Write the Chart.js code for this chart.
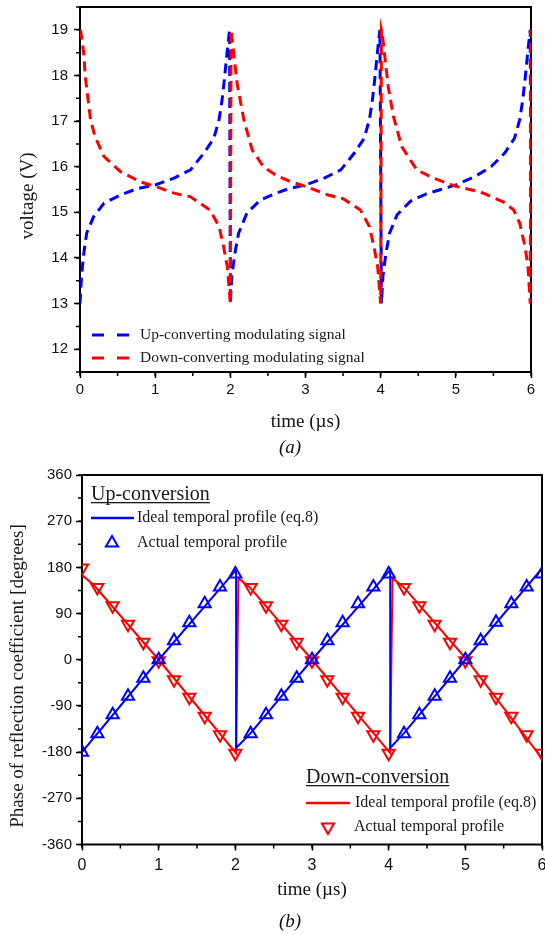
<!DOCTYPE html>
<html>
<head>
<meta charset="utf-8">
<script src="https://cdn.jsdelivr.net/npm/chart.js@4.4.1/dist/chart.umd.min.js"></script>
<style>
  body { margin: 0; background: #fff; width: 545px; height: 935px; position: relative; overflow: hidden; }
  .box { position: absolute; left: 0; width: 545px; }
  .cap { position: absolute; left: 240px; width: 100px; text-align: center; font: italic 19px 'Liberation Serif', serif; color: #111; }
</style>
</head>
<body>
<div class="box" style="top:0;height:440px"><canvas id="voltageChart"></canvas></div>
<div class="cap" style="top:436px">(a)</div>
<div class="box" style="top:455px;height:455px;width:551px"><canvas id="phaseChart"></canvas></div>
<div class="cap" style="top:910px">(b)</div>
<script>
// ticks
var timeTicks = [0, 1, 2, 3, 4, 5, 6];
var voltTicks = [12, 13, 14, 15, 16, 17, 18, 19];
var phaseTicks = [-360, -270, -180, -90, 0, 90, 180, 270, 360];

// (a) modulating voltages
var upTime = [0, 0.02, 0.05, 0.09, 0.18, 0.32, 0.54, 0.76, 1.0, 1.25, 1.47, 1.65, 1.78, 1.85, 1.89, 1.92, 1.96, 1.99, 2.0,
    2.02, 2.06, 2.11, 2.22, 2.4, 2.58, 2.78, 3.0, 3.25, 3.47, 3.65, 3.78, 3.85, 3.89, 3.92, 3.96, 3.99, 4.01,
    4.03, 4.07, 4.12, 4.22, 4.4, 4.6, 4.8, 5.0, 5.25, 5.47, 5.65, 5.78, 5.85, 5.89, 5.92, 5.96, 5.99, 6.0];
var upVolt = [13.0, 13.6, 14.1, 14.55, 14.9, 15.2, 15.38, 15.52, 15.6, 15.75, 15.93, 16.3, 16.62, 17.03, 17.46, 17.9, 18.56, 19.0, 13.0,
    13.6, 14.1, 14.54, 14.98, 15.27, 15.4, 15.52, 15.6, 15.75, 15.93, 16.3, 16.62, 17.03, 17.46, 17.9, 18.56, 19.0, 13.0,
    13.6, 14.1, 14.55, 14.95, 15.25, 15.4, 15.5, 15.6, 15.78, 16.0, 16.3, 16.62, 17.03, 17.46, 17.9, 18.56, 19.0, 13.0];
var downTime = [0, 0.01, 0.05, 0.07, 0.14, 0.2, 0.32, 0.54, 0.8, 1.0, 1.25, 1.47, 1.73, 1.85, 1.91, 1.96, 2.0,
    2.01, 2.02, 2.09, 2.18, 2.29, 2.44, 2.6, 2.8, 3.0, 3.3, 3.5, 3.73, 3.85, 3.91, 3.96, 4.0,
    4.01, 4.02, 4.1, 4.17, 4.28, 4.48, 4.7, 5.0, 5.32, 5.63, 5.77, 5.85, 5.92, 5.96, 5.99, 6.0];
var downVolt = [19.0, 18.96, 18.49, 17.98, 17.03, 16.66, 16.22, 15.89, 15.67, 15.57, 15.42, 15.34, 15.05, 14.69, 14.25, 13.81, 13.0,
    19.0, 18.85, 17.83, 17.03, 16.37, 16.0, 15.82, 15.67, 15.57, 15.38, 15.3, 15.05, 14.69, 14.25, 13.81, 13.0,
    19.0, 18.93, 17.76, 17.1, 16.44, 15.93, 15.75, 15.57, 15.45, 15.23, 15.05, 14.76, 14.25, 13.81, 13.0, 19.0];

// (b) phase of reflection coefficient
var idealUpTime = [0, 1, 2.01, 2.01, 2.2, 3, 4.02, 4.02, 4.2, 5, 6];
var idealUpPhase = [-180, 0, 175, -172, -143, 0, 175, -172, -143, 0, 178];
var idealDownTime = [0, 0.15, 1, 2.01, 2.04, 2.19, 3, 4.02, 4.05, 4.2, 5.02, 6];
var idealDownPhase = [165, 146, 0, -182, 159, 141, 0, -182, 159, 141, 0, -192];
var sampleTime = [0, 0.2, 0.4, 0.6, 0.8, 1, 1.2, 1.4, 1.6, 1.8, 2, 2.2, 2.4, 2.6, 2.8, 3,
    3.2, 3.4, 3.6, 3.8, 4, 4.2, 4.4, 4.6, 4.8, 5, 5.2, 5.4, 5.6, 5.8, 6];
var actualUpPhase = [-180, -144, -107, -71, -36, 0, 37, 72, 109, 142, 167,
    -144, -107, -71, -36, 0, 37, 72, 109, 142, 167,
    -144, -107, -71, -36, 0, 37, 73, 109, 142, 167];
var actualDownPhase = [179, 141, 105, 69, 34, -2, -39, -73, -110, -146, -182,
    141, 105, 69, 34, -2, -39, -73, -110, -146, -182,
    141, 105, 69, 34, -2, -39, -73, -110, -146, -182];

var BLUE = '#0000ff';
var RED = '#ff0000';
var SERIF = "'Liberation Serif', 'Times New Roman', serif";

Chart.defaults.font.family = "'Liberation Sans', Arial, sans-serif";
Chart.defaults.color = '#111';

function pairs(xs, ys) {
    return xs.map(function (x, i) { return { x: x, y: ys[i] }; });
}

// box round the plot plus the short minor ticks
function frameTicks(xMinor, yMinor) {
    return {
        id: 'frameTicks',
        beforeDatasetsDraw: function (chart) {
            var ctx = chart.ctx, a = chart.chartArea, x = chart.scales.x, y = chart.scales.y;
            ctx.save();
            ctx.strokeStyle = '#000';
            ctx.lineWidth = 1.5;
            ctx.beginPath();
            for (var v = x.min; v <= x.max + 1e-9; v += xMinor) {
                var px = x.getPixelForValue(v);
                ctx.moveTo(px, a.bottom);
                ctx.lineTo(px, a.bottom + 4);
            }
            for (v = y.min; v <= y.max + 1e-9; v += yMinor) {
                var py = y.getPixelForValue(v);
                ctx.moveTo(a.left, py);
                ctx.lineTo(a.left - 4, py);
            }
            ctx.stroke();
            ctx.lineWidth = 2;
            ctx.strokeRect(a.left, a.top, a.right - a.left, a.bottom - a.top);
            ctx.restore();
        }
    };
}

// legend and side titles drawn the way the paper has them
function paperLegend(items) {
    return {
        id: 'paperLegend',
        afterDraw: function (chart) {
            var ctx = chart.ctx;
            items.forEach(function (it) {
                ctx.save();
                ctx.fillStyle = '#1a1a1a';
                ctx.font = it.font;
                ctx.textBaseline = 'middle';
                ctx.textAlign = 'left';
                if (it.kind === 'heading') {
                    ctx.fillText(it.text, it.x, it.y);
                    ctx.fillRect(it.x, it.y + 7, ctx.measureText(it.text).width, 1.3);
                } else if (it.kind === 'vtitle') {
                    ctx.translate(it.x, it.y);
                    ctx.rotate(-Math.PI / 2);
                    ctx.textAlign = 'center';
                    ctx.fillText(it.text, 0, 0);
                } else {
                    ctx.strokeStyle = it.color;
                    ctx.lineWidth = it.width;
                    if (it.kind === 'line') {
                        ctx.setLineDash(it.dash || []);
                        ctx.beginPath();
                        ctx.moveTo(it.x1, it.y);
                        ctx.lineTo(it.x2, it.y);
                        ctx.stroke();
                        ctx.setLineDash([]);
                    } else {
                        ctx.fillStyle = 'rgba(0,0,0,0)';
                        Chart.helpers.drawPoint(ctx, { pointStyle: 'triangle', radius: 7, rotation: it.rotation, borderWidth: 2 }, it.x1, it.y);
                        ctx.fillStyle = '#1a1a1a';
                    }
                    ctx.fillText(it.text, it.tx, it.y);
                }
                ctx.restore();
            });
        }
    };
}

function axisX(height, labelFont, labelPad, titleText, titleFont, titlePad) {
    return {
        type: 'linear', min: 0, max: 6,
        afterBuildTicks: function (s) { s.ticks = timeTicks.map(function (v) { return { value: v }; }); },
        afterFit: function (s) { s.height = height; s.paddingLeft = 0; s.paddingRight = 0; },
        border: { display: false },
        grid: { drawOnChartArea: false, tickLength: 6, tickColor: '#000', tickWidth: 1.5 },
        ticks: { font: labelFont, padding: labelPad, maxRotation: 0, color: '#111' },
        title: { display: true, text: titleText, font: titleFont, color: '#111', padding: { top: 0, bottom: titlePad } }
    };
}

function axisY(width, min, max, tickValues, labelPad) {
    return {
        type: 'linear', min: min, max: max,
        afterBuildTicks: function (s) { s.ticks = tickValues.map(function (v) { return { value: v }; }); },
        afterFit: function (s) { s.width = width; s.paddingTop = 0; s.paddingBottom = 0; },
        border: { display: false },
        grid: { drawOnChartArea: false, tickLength: 6, tickColor: '#000', tickWidth: 1.5 },
        ticks: { font: { size: 15 }, padding: labelPad, color: '#111' },
        title: { display: false }
    };
}

// ---- (a) voltage chart
var ctxA = document.getElementById('voltageChart').getContext('2d');
var voltageChart = new Chart(ctxA, {
    type: 'line',
    data: {
        datasets: [{
            label: 'Down-converting modulating signal',
            data: pairs(downTime, downVolt),
            borderColor: RED,
            borderWidth: 3,
            borderDash: [10, 6],
            pointRadius: 0,
            tension: 0
        }, {
            label: 'Up-converting modulating signal',
            data: pairs(upTime, upVolt),
            borderColor: BLUE,
            borderWidth: 3,
            borderDash: [10, 6],
            pointRadius: 0,
            tension: 0
        }]
    },
    options: {
        responsive: true,
        maintainAspectRatio: false,
        animation: false,
        events: [],
        layout: { padding: { left: 0, top: 7, right: 14, bottom: 0 } },
        scales: {
            x: axisX(68, { size: 15 }, 3, 'time (\u00b5s)', { family: SERIF, size: 19 }, 7),
            y: axisY(80, 11.5, 19.5, voltTicks, 6)
        },
        plugins: { legend: { display: false }, tooltip: { enabled: false } }
    },
    plugins: [frameTicks(0.5, 0.5), paperLegend([
        { kind: 'vtitle', x: 28, y: 196, text: 'voltage (V)', font: '19px ' + SERIF },
        { kind: 'line', color: BLUE, width: 3, dash: [12, 13], x1: 92, x2: 130, y: 335, tx: 140, text: 'Up-converting modulating signal', font: '15.5px ' + SERIF },
        { kind: 'line', color: RED, width: 3, dash: [12, 13], x1: 92, x2: 130, y: 358, tx: 140, text: 'Down-converting modulating signal', font: '15.5px ' + SERIF }
    ])]
});

// ---- (b) phase chart
var ctxB = document.getElementById('phaseChart').getContext('2d');
var phaseChart = new Chart(ctxB, {
    type: 'line',
    data: {
        datasets: [{
            label: 'Ideal temporal profile (eq.8) up',
            data: pairs(idealUpTime, idealUpPhase),
            borderColor: BLUE,
            borderWidth: 2,
            pointRadius: 0,
            tension: 0
        }, {
            label: 'Actual temporal profile up',
            data: pairs(sampleTime, actualUpPhase),
            showLine: false,
            pointStyle: 'triangle',
            pointRadius: 7,
            pointBorderWidth: 2,
            pointBorderColor: BLUE,
            pointBackgroundColor: 'rgba(0,0,0,0)'
        }, {
            label: 'Ideal temporal profile (eq.8) down',
            data: pairs(idealDownTime, idealDownPhase),
            borderColor: RED,
            borderWidth: 2,
            pointRadius: 0,
            tension: 0
        }, {
            label: 'Actual temporal profile down',
            data: pairs(sampleTime, actualDownPhase),
            showLine: false,
            pointStyle: 'triangle',
            pointRotation: 180,
            pointRadius: 7,
            pointBorderWidth: 2,
            pointBorderColor: RED,
            pointBackgroundColor: 'rgba(0,0,0,0)'
        }]
    },
    options: {
        responsive: true,
        maintainAspectRatio: false,
        animation: false,
        events: [],
        layout: { padding: { left: 0, top: 20, right: 0, bottom: 0 } },
        scales: {
            x: axisX(65.5, { size: 16 }, 5, 'time (\u00b5s)', { family: SERIF, size: 19 }, 9),
            y: axisY(82, -360, 360, phaseTicks, 4)
        },
        plugins: { legend: { display: false }, tooltip: { enabled: false } }
    },
    plugins: [frameTicks(0.5, 45), paperLegend([
        { kind: 'vtitle', x: 18, y: 221, text: 'Phase of reflection coefficient [degrees]', font: '19px ' + SERIF },
        { kind: 'heading', x: 91, y: 40, text: 'Up-conversion', font: '20px ' + SERIF },
        { kind: 'line', color: BLUE, width: 2.5, x1: 91, x2: 134, y: 63, tx: 137, text: 'Ideal temporal profile (eq.8)', font: '16px ' + SERIF },
        { kind: 'marker', color: BLUE, width: 2, rotation: 0, x1: 112, y: 88, tx: 137, text: 'Actual temporal profile', font: '16px ' + SERIF },
        { kind: 'heading', x: 306, y: 323, text: 'Down-conversion', font: '20px ' + SERIF },
        { kind: 'line', color: RED, width: 2.5, x1: 306, x2: 350, y: 348, tx: 355, text: 'Ideal temporal profile (eq.8)', font: '16px ' + SERIF },
        { kind: 'marker', color: RED, width: 2, rotation: 180, x1: 328, y: 372, tx: 354, text: 'Actual temporal profile', font: '16px ' + SERIF }
    ])]
});
</script>
</body>
</html>
